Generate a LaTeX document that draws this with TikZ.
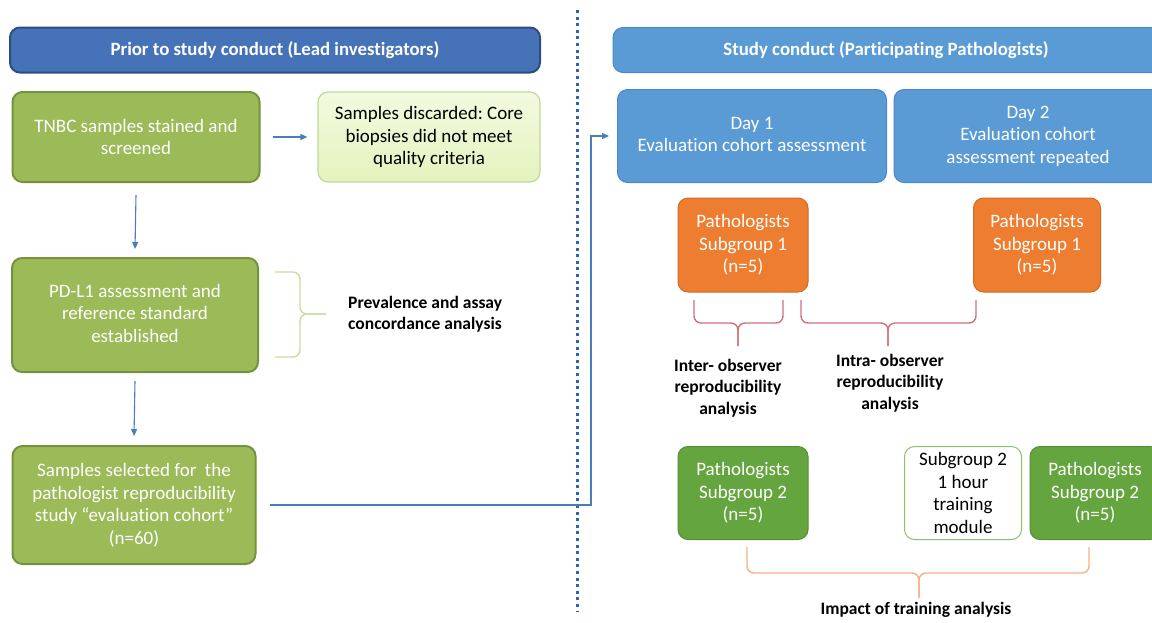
\documentclass[tikz,border=0pt]{standalone}
\usepackage{fontspec}
\setmainfont{Carlito}[Ligatures={NoCommon}]
\usetikzlibrary{arrows.meta}
\definecolor{hdrdark}{HTML}{4672B8}
\definecolor{hdrdarkline}{HTML}{2C4D80}
\definecolor{hdrlight}{HTML}{5B9BD5}
\definecolor{hdrlightline}{HTML}{4A88C6}
\definecolor{olive}{HTML}{9BBB59}
\definecolor{oliveline}{HTML}{76923C}
\definecolor{palegreen}{HTML}{E4F3BE}
\definecolor{palegreentop}{HTML}{F3FADF}
\definecolor{palegreenline}{HTML}{C3D69B}
\definecolor{orangefill}{HTML}{ED7D31}
\definecolor{orangeline}{HTML}{D46A22}
\definecolor{greenfill}{HTML}{64A540}
\definecolor{greenline}{HTML}{548F34}
\definecolor{whiteline}{HTML}{8CC068}
\definecolor{arrowblue}{HTML}{4A7EBB}
\definecolor{dotblue}{HTML}{2F64B3}
\definecolor{bracegreen}{HTML}{C9DC9E}
\definecolor{bracered}{HTML}{CF6F78}
\definecolor{braceorange}{HTML}{F4B183}
\newcommand{\stack}[1]{\begin{tabular}{@{}c@{}}#1\end{tabular}}
\frenchspacing
\begin{document}
\begin{tikzpicture}[x=1pt,y=-1pt,
  box/.style={rounded corners=10pt, align=center, inner sep=0pt,
    font=\fontsize{19}{22.5}\selectfont},
  hdrbox/.style={box, text=white, font=\bfseries\fontsize{18.8}{21}\selectfont},
  olivebox/.style={box, fill=olive, draw=oliveline, line width=2pt, text=white},
  bluebox/.style={box, fill=hdrlight, draw=hdrlightline, line width=1pt, text=white},
  orangebox/.style={box, fill=orangefill, draw=orangeline, line width=1pt, text=white},
  greenbox/.style={box, fill=greenfill, draw=greenline, line width=1pt, text=white},
  trainbox/.style={box, fill=white, draw=whiteline, line width=1pt, text=black},
  flowarrow/.style={draw=arrowblue, line width=1.1pt, -{Triangle[length=7pt,width=6pt]}},
  bracket/.style={rounded corners=7pt, line width=1.4pt},
  analysis/.style={align=center, inner sep=0pt, font=\bfseries\fontsize{17.5}{21.5}\selectfont}
]
\useasboundingbox (0,0) rectangle (1152,622);

% headers
\node[hdrbox, fill=hdrdark, draw=hdrdarkline, line width=2pt,
  minimum width=530pt, minimum height=45pt] (hdrL) at (275,50)
  {Prior to study conduct (Lead investigators)};
\node[hdrbox, fill=hdrlight, draw=hdrlightline, line width=1pt,
  minimum width=552pt, minimum height=45pt] (hdrR) at (889,50) {};
\node[hdrbox] (hdrRtext) at (886,50) {Study conduct (Participating Pathologists)};

% dotted divider
\coordinate (divtop) at (577,10);
\coordinate (divbot) at (577,612);
\draw[dotblue, line width=3pt, dash pattern=on 3pt off 3.6pt] (divtop) -- (divbot);

% left column
\node[olivebox, minimum width=247pt, minimum height=90pt] (tnbc) at (136,137)
  {TNBC samples stained and\\screened};
\node[box, top color=palegreentop, bottom color=palegreen, draw=palegreenline,
  line width=1.2pt, minimum width=222pt, minimum height=90pt] (disc) at (429,137)
  {Samples discarded: Core\\biopsies did not meet\\quality criteria};
\node[olivebox, minimum width=246pt, minimum height=114pt] (pdl1) at (135,315)
  {\raisebox{7pt}{\stack{PD-L1 assessment and\\reference standard\\established}}};
\node[olivebox, minimum width=243pt, minimum height=118pt] (samp) at (134,505)
  {Samples selected for\ \ the\\pathologist reproducibility\\study \textquotedblleft evaluation cohort\textquotedblright\\(n=60)};

\draw[flowarrow] ([xshift=12pt]tnbc.east) -- ([xshift=-10pt]disc.west);
\draw[flowarrow] ([yshift=-12pt]tnbc.south) -- ([yshift=8pt]pdl1.north);
\draw[flowarrow] ([yshift=-8pt]pdl1.south) -- ([yshift=9pt]samp.north);

% prevalence bracket
\coordinate (pbTop) at (275,272);
\coordinate (pbBot) at (275,357);
\coordinate (pbTip) at (326,314);
\draw[bracket, bracegreen] (pbTop) -- (300,272) -- (300,314) -- (pbTip);
\draw[bracket, bracegreen] (pbBot) -- (300,357) -- (300,314) -- (pbTip);
\node[analysis, anchor=west, align=left] (prev) at (348,314)
  {Prevalence and assay\\concordance analysis};

% right column
\node[bluebox, minimum width=269pt, minimum height=93pt] (day1) at (752,136)
  {\raisebox{11pt}{\stack{Day 1\\Evaluation cohort assessment}}};
\node[bluebox, minimum width=268pt, minimum height=93pt] (day2) at (1028,136)
  {\raisebox{7pt}{\stack{Day 2\\Evaluation cohort\\assessment repeated}}};

\coordinate (bend) at (591,0);
\draw[flowarrow] ([xshift=13pt]samp.east) -| (bend |- day1.west) -- ([xshift=-8pt]day1.west);

\node[orangebox, minimum width=130pt, minimum height=94pt] (o1) at (743,245)
  {Pathologists\\Subgroup 1\\(n=5)};
\node[orangebox, minimum width=127pt, minimum height=94pt] (o2) at (1037,245)
  {Pathologists\\Subgroup 1\\(n=5)};

% inter / intra brackets
\coordinate (ibTip) at (738,346);
\draw[bracket, bracered] (694,300) -- (694,323) -- (738,323) -- (ibTip);
\draw[bracket, bracered] (783,300) -- (783,323) -- (738,323) -- (ibTip);
\coordinate (abTip) at (888,346);
\draw[bracket, bracered] (801,300) -- (801,323) -- (888,323) -- (abTip);
\draw[bracket, bracered] (976,300) -- (976,323) -- (888,323) -- (abTip);

\node[analysis] (inter) at (728,388)
  {Inter- observer\\reproducibility\\analysis};
\node[analysis] (intra) at (890,383)
  {Intra- observer\\reproducibility\\analysis};

\node[greenbox, minimum width=130pt, minimum height=93pt] (g1) at (743,493)
  {Pathologists\\Subgroup 2\\(n=5)};
\node[trainbox, minimum width=117pt, minimum height=93pt] (train) at (963,493)
  {Subgroup 2\\1 hour\\training\\module};
\node[greenbox, minimum width=130pt, minimum height=93pt] (g2) at (1095,493)
  {Pathologists\\Subgroup 2\\(n=5)};

% training bracket
\coordinate (tbTip) at (919,598);
\draw[bracket, braceorange] (747,547) -- (747,573) -- (919,573) -- (tbTip);
\draw[bracket, braceorange] (1089,547) -- (1089,573) -- (919,573) -- (tbTip);
\node[analysis] (impact) at (916,610) {Impact of training analysis};

\end{tikzpicture}
\end{document}
